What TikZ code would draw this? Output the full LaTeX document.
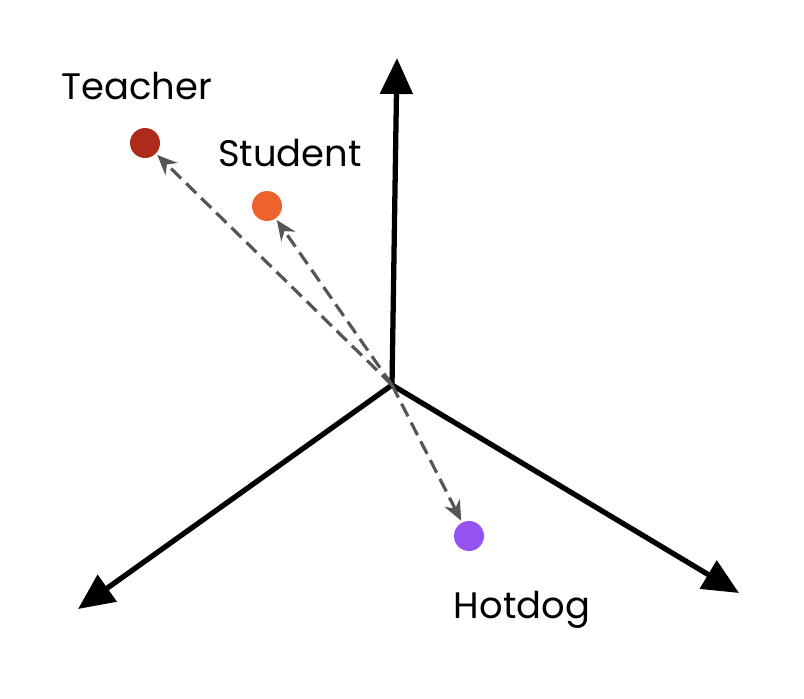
\documentclass[tikz,border=0pt]{standalone}
\usepackage{fontspec}
\setmainfont{Poppins}
\usetikzlibrary{arrows.meta}
\definecolor{teachercol}{HTML}{AE2A1A}
\definecolor{studentcol}{HTML}{EE622E}
\definecolor{hotdogcol}{HTML}{9552F2}
\definecolor{vecgray}{HTML}{555555}
\tikzset{
  axis/.style={line width=3pt, -{Triangle[length=0.72cm, width=0.64cm]}},
  vec/.style={vecgray, line width=1.8pt, dash pattern=on 8pt off 4pt, -{Stealth[length=0.4cm, width=0.34cm]}, shorten >=1pt},
  dot/.style={circle, inner sep=0pt, minimum size=0.6cm},
  lbl/.style={font=\fontsize{21}{24}\selectfont}
}
\begin{document}
\begin{tikzpicture}[x=0.02cm, y=-0.02cm]
\useasboundingbox (0,0) rectangle (804,698);
% axes
\coordinate (o) at (392,385);
\coordinate (up) at (397,58);
\coordinate (left) at (78,609);
\coordinate (right) at (739,593);
\draw[axis] (o) -- (up);
\draw[axis] (o) -- (left);
\draw[axis] (o) -- (right);
% points
\node[dot, fill=teachercol] (teacher) at (145,143) {};
\node[dot, fill=studentcol] (student) at (267,206) {};
\node[dot, fill=hotdogcol] (hotdog) at (469,536) {};
% labels
\node[lbl] (tlbl) at (137,86) {Teacher};
\node[lbl] (slbl) at (290,153) {Student};
\node[lbl] (hlbl) at (522,610) {Hotdog};
% vectors
\draw[vec] (o) -- (teacher);
\draw[vec] (o) -- (student);
\draw[vec] (o) -- (hotdog);
\end{tikzpicture}
\end{document}
